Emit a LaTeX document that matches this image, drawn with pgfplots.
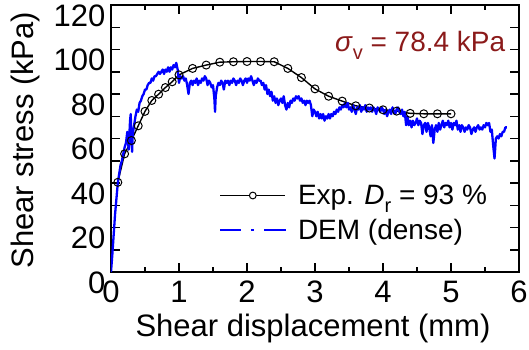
\documentclass[border=0pt]{standalone}
\usepackage{pgfplots}
\pgfplotsset{compat=1.18}
\usepackage{fontspec}
\setmainfont{Liberation Sans}
\definecolor{sigred}{RGB}{139,26,26}
\begin{document}
\begin{tikzpicture}
\begin{axis}[
  scale only axis, width=408pt, height=267pt,
  xmin=0, xmax=6, ymin=0, ymax=120,
  xtick={0,1,...,6}, minor xtick={0.5,1.5,...,5.5},
  ytick={0,10,...,120},
  yticklabels={0,,20,,40,,60,,80,,100,,120},
  tick align=inside, major tick length=9pt, minor tick length=5pt,
  xtick pos=both, ytick pos=both,
  axis line style={line width=1.8pt},
  every tick/.style={line width=1.5pt, black},
  /pgf/number format/assume math mode=true,
  tick label style={font=\fontsize{31}{36}\selectfont},
  label style={font=\fontsize{31}{36}\selectfont},
  xlabel={Shear displacement (mm)},
  ylabel={Shear stress (kPa)},
  xticklabel style={yshift=-8pt, inner ysep=1pt},
  yticklabel style={yshift=-10.5pt, xshift=-2pt},
  xlabel style={at={(axis description cs:0.495,0)}, anchor=base, yshift=-64pt, inner ysep=1pt},
  ylabel style={at={(axis description cs:-0.191,0.494)}, anchor=base, rotate=0},
  legend cell align=left,
  legend style={draw=none, fill=none, font=\fontsize{28}{34}\selectfont,
    at={(axis cs:1.55,41)}, anchor=north west, row sep=9pt,
    /tikz/every odd column/.append style={column sep=9pt}},
]
\addplot[black, line width=1.4pt, mark=o, mark size=4pt, mark options={fill=white, line width=1pt},
  legend image code/.code={\draw[black, line width=1.3pt] (0pt,0pt) -- (65pt,0pt);
     \draw[black, line width=1pt, fill=white] (32.5pt,0pt) circle (3.4pt);}]
coordinates {
(0.1,40.3)(0.2,53.1)(0.3,59.1)(0.4,65.7)(0.5,72.2)(0.6,77.1)(0.7,79.9)(0.8,82.9)(0.9,85.5)(1.0,88.6)
(1.2,91.5)(1.4,93.0)(1.6,94.3)(1.8,94.5)(2.0,94.6)(2.2,94.6)(2.4,94.5)(2.6,91.5)(2.8,87.4)(3.0,82.3)
(3.2,79.0)(3.4,76.8)(3.6,74.7)(3.8,73.7)(4.0,72.9)(4.2,72.3)(4.4,71.3)(4.6,71.1)(4.8,71.1)(5.0,71.1)
};
\addlegendentry{Exp. \textit{D}\raisebox{-0.28em}{\fontsize{20}{20}\selectfont r} = 93 \%}
\addplot[blue, line width=2.3pt, line join=round,
  legend image code/.code={\draw[blue, line width=1.4pt, dash pattern=on 21pt off 10pt on 3pt off 10pt on 22pt] (0pt,0pt) -- (66pt,0pt);}]
table {
0.00 0
0.02 8
0.04 17
0.06 26
0.08 33
0.10 40
0.12 44
0.14 48
0.16 50
0.18 53
0.20 56
0.22 58
0.24 63
0.26 55
0.28 68
0.29 71
0.30 60
0.31 54
0.32 62
0.34 66
0.36 70
0.38 73
0.40 72
0.42 76
0.44 77
0.46 79
0.48 80
0.50 82
0.52 82
0.54 84
0.56 85
0.58 85
0.60 87
0.62 86
0.64 88
0.66 88
0.68 89
0.70 90
0.72 89
0.74 90
0.76 91
0.78 89
0.80 91
0.82 90
0.84 92
0.86 90
0.88 92
0.90 91
0.92 93
0.94 92
0.96 94
0.98 91
1.00 85
1.02 88
1.04 87
1.06 88
1.08 86
1.10 87
1.12 84
1.14 80
1.16 85
1.18 86
1.20 84
1.22 86
1.24 85
1.26 87
1.28 84
1.30 86
1.32 85
1.34 87
1.36 86
1.38 88
1.40 87
1.42 84
1.44 86
1.46 85
1.48 83
1.50 84
1.52 78
1.53 72
1.54 79
1.56 83
1.58 85
1.60 84
1.62 86
1.64 85
1.66 82
1.68 86
1.70 85
1.72 86
1.74 84
1.76 86
1.78 85
1.80 87
1.82 86
1.84 84
1.86 86
1.88 85
1.90 87
1.92 86
1.94 84
1.96 86
1.98 87
2.00 85
2.02 87
2.04 86
2.06 88
2.08 86
2.10 84
2.12 86
2.14 85
2.16 87
2.18 86
2.20 86
2.22 84
2.24 85
2.26 82
2.28 84
2.30 80
2.32 82
2.34 79
2.36 81
2.38 77
2.40 79
2.42 76
2.44 78
2.46 75
2.48 77
2.50 78
2.52 76
2.54 79
2.56 75
2.58 73
2.60 76
2.62 74
2.64 77
2.66 76
2.68 78
2.70 77
2.72 79
2.74 78
2.76 79
2.78 77
2.80 78
2.82 76
2.84 77
2.86 75
2.88 77
2.90 76
2.92 77
2.94 75
2.96 70
2.98 73
3.00 72
3.02 70
3.04 72
3.06 69
3.08 71
3.10 69
3.12 71
3.14 68
3.16 70
3.18 69
3.20 71
3.22 69
3.24 71
3.26 70
3.28 72
3.30 71
3.32 73
3.34 72
3.36 74
3.38 73
3.40 75
3.42 74
3.44 76
3.46 74
3.48 76
3.50 73
3.52 74
3.54 72
3.56 75
3.58 73
3.60 71
3.62 74
3.64 73
3.66 75
3.68 72
3.70 74
3.72 73
3.74 75
3.76 72
3.78 74
3.80 73
3.82 74
3.84 72
3.86 74
3.88 73
3.90 71
3.92 74
3.94 73
3.96 72
3.98 74
4.00 73
4.02 71
4.04 73
4.06 70
4.08 72
4.10 73
4.12 71
4.14 74
4.16 72
4.18 71
4.20 73
4.22 74
4.24 72
4.26 71
4.28 73
4.30 70
4.32 72
4.34 66
4.36 70
4.38 66
4.40 68
4.42 65
4.44 68
4.46 66
4.48 67
4.50 69
4.52 66
4.54 68
4.56 67
4.58 62
4.60 66
4.62 67
4.64 63
4.66 67
4.68 65
4.70 61
4.72 66
4.74 58
4.76 64
4.78 66
4.80 63
4.82 67
4.84 64
4.86 66
4.88 68
4.90 65
4.92 67
4.94 66
4.96 68
4.98 65
5.00 67
5.02 64
5.04 67
5.06 66
5.08 68
5.10 64
5.12 66
5.14 63
5.16 66
5.18 65
5.20 63
5.22 65
5.24 64
5.26 66
5.28 65
5.30 62
5.32 64
5.34 65
5.36 63
5.38 65
5.40 66
5.42 64
5.44 65
5.46 64
5.48 66
5.50 65
5.52 67
5.54 66
5.56 67
5.58 63
5.60 64
5.62 57
5.64 51
5.66 60
5.68 61
5.70 60
5.72 62
5.74 61
5.76 63
5.78 63
5.80 65
5.82 65
};
\addlegendentry{DEM (dense)}
\node[anchor=base east, text=sigred, font=\fontsize{28}{34}\selectfont] at (axis cs:5.85,99)
  {\textit{σ}\raisebox{-0.28em}{\fontsize{20}{20}\selectfont v} = 78.4 kPa};
\end{axis}
\pgfresetboundingbox
\useasboundingbox (-111pt,-77pt) rectangle (418pt,272pt);
\end{tikzpicture}
\end{document}
